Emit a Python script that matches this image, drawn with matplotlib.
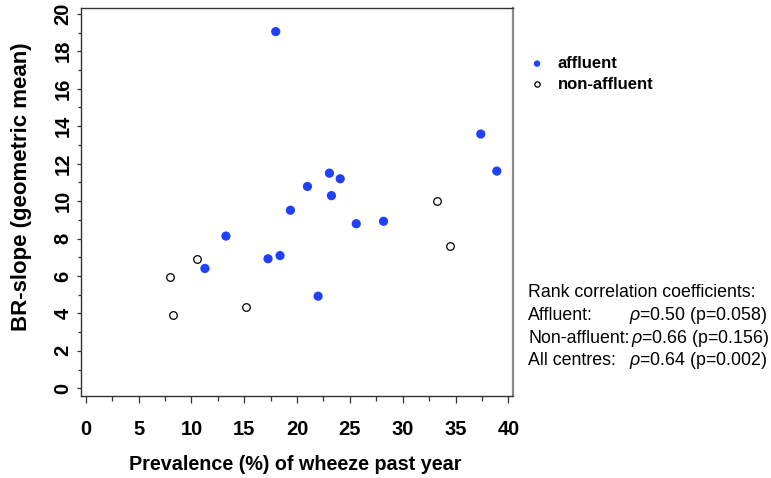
import matplotlib
matplotlib.use("Agg")
import matplotlib.pyplot as plt
from matplotlib.ticker import MultipleLocator

plt.rcParams['font.family'] = ['Liberation Sans', 'DejaVu Sans']
plt.rcParams['mathtext.fontset'] = 'custom'
plt.rcParams['mathtext.rm'] = 'Liberation Sans'
plt.rcParams['mathtext.it'] = 'Liberation Sans:italic'

# Data
affluent_x = [17.98, 37.38, 38.9, 23.06, 24.08, 20.98, 23.25, 19.37, 25.6, 28.18,
              13.27, 11.28, 17.25, 18.39, 21.99]
affluent_y = [19.05, 13.58, 11.6, 11.49, 11.19, 10.78, 10.29, 9.51, 8.79, 8.92,
              8.13, 6.4, 6.92, 7.09, 4.92]
nonaffluent_x = [33.27, 34.47, 10.55, 7.96, 8.28, 15.17]
nonaffluent_y = [9.99, 7.61, 6.92, 5.92, 3.91, 4.33]

series_labels = ["affluent", "non-affluent"]
x_label = "Prevalence (%) of wheeze past year"
y_label = "BR-slope (geometric mean)"
stats_title = "Rank correlation coefficients:"
stats_groups = ["Affluent:", "Non-affluent:", "All centres:"]
stats_rho = ["0.50", "0.66", "0.64"]
stats_p = ["0.058", "0.156", "0.002"]

W, H = 771, 478
fig = plt.figure(figsize=(W / 100, H / 100), dpi=100)
ax = fig.add_axes([80.7 / W, 1 - 396 / H, (513 - 80.7) / W, (396 - 8) / H])

blue = '#2040fa'
ax.scatter(nonaffluent_x, nonaffluent_y, s=30, facecolors='white',
           edgecolors='black', linewidths=0.9, label=series_labels[1], zorder=3)
ax.scatter(affluent_x, affluent_y, s=44, color=blue, edgecolors='none',
           label=series_labels[0], zorder=4)

ax.set_xlim(-0.473, 40.43)
ax.set_ylim(-0.41, 20.31)
ax.xaxis.set_major_locator(MultipleLocator(5))
ax.xaxis.set_minor_locator(MultipleLocator(2.5))
ax.yaxis.set_major_locator(MultipleLocator(2))
ax.yaxis.set_minor_locator(MultipleLocator(1))

for s in ['left', 'bottom', 'top']:
    ax.spines[s].set_color('#333333')
    ax.spines[s].set_linewidth(1.0)
ax.spines['right'].set_color('#8a8a8a')
ax.spines['right'].set_linewidth(1.6)

ax.tick_params(axis='x', which='major', direction='out', length=5, width=0.9,
               color='#333333', pad=12, labelsize=14.5)
ax.tick_params(axis='x', which='minor', direction='out', length=3.6, width=0.9,
               color='#333333')
ax.tick_params(axis='y', which='major', direction='out', length=3, width=0.9,
               color='#333333', pad=3, labelsize=14.5)
ax.tick_params(axis='y', which='minor', direction='out', length=2.4, width=0.9,
               color='#333333')
for lbl in ax.get_xticklabels():
    lbl.set_fontweight('bold')
for lbl in ax.get_yticklabels():
    lbl.set_fontweight('bold')
    lbl.set_rotation(90)
    lbl.set_verticalalignment('center')

ax.set_xlabel(x_label, fontsize=14.2, fontweight='bold')
ax.xaxis.set_label_coords((295 - 80.7) / (513 - 80.7), (396 - 465) / 388)
ax.xaxis.label.set_verticalalignment('center')
ax.set_ylabel(y_label, fontsize=16, fontweight='bold')
ax.yaxis.set_label_coords((22 - 80.7) / (513 - 80.7), (396 - 187) / 388)
ax.yaxis.label.set_verticalalignment('center')

handles, labels = ax.get_legend_handles_labels()
order = [1, 0]
leg = ax.legend([handles[i] for i in order], [labels[i] for i in order],
                loc='upper left', bbox_to_anchor=(528.7 / W, 1 - 56 / H),
                bbox_transform=fig.transFigure, frameon=False,
                prop={'weight': 'bold', 'size': 12}, markerscale=0.7,
                handlelength=1.0, handletextpad=0.75, labelspacing=0.35,
                borderpad=0, borderaxespad=0)

# statistics text
fs = 12.8
fig.text(528 / W, 1 - 297 / H, stats_title, fontsize=fs, va='baseline', ha='left')
baselines = [320, 343, 365]
right_ends = [767, 769, 767]
for g, r, p, b, re in zip(stats_groups, stats_rho, stats_p, baselines, right_ends):
    fig.text(528 / W, 1 - b / H, g, fontsize=fs, va='baseline', ha='left')
    fig.text(re / W, 1 - b / H, r"$\rho$=" + r + " (p=" + p + ")", fontsize=fs,
             va='baseline', ha='right')

fig.savefig("out.png", dpi=100)
